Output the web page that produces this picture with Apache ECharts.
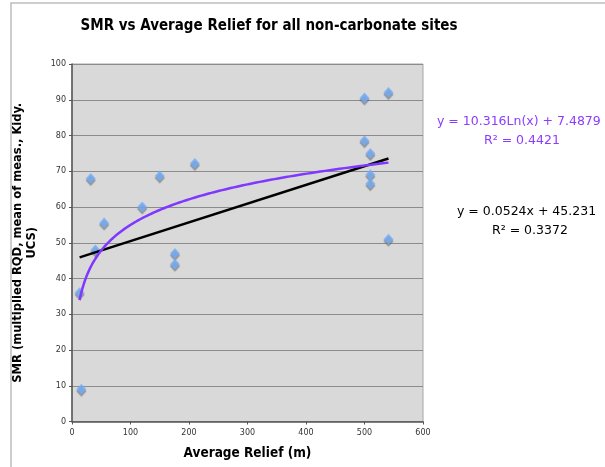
<!DOCTYPE html>
<html>
<head>
<meta charset="utf-8">
<script src="https://cdn.jsdelivr.net/npm/echarts@6/dist/echarts.min.js"></script>
<style>
  html, body { margin: 0; padding: 0; background: #fff; }
  #chart { width: 605px; height: 467px; }
</style>
</head>
<body>
<div id="chart"></div>
<script>
// Sites: average relief (m) and SMR
const relief = [13, 16, 32, 40, 55, 120, 150, 176, 176, 210, 500, 500, 510, 510, 510, 541, 541];
const smr    = [36, 9, 68, 48, 55.5, 60, 68.7, 47, 44, 72.2, 90.5, 78.5, 75, 69, 66.5, 92, 51];

// Fitted trend lines (coefficients as printed on the chart)
const logFit = { a: 10.316, b: 7.4879, r2: '0.4421' };
const linFit = { m: 0.0524, c: 45.231, r2: '0.3372' };
const fitRange = [13, 541];

const xTicks = { min: 0, max: 600, interval: 100 };
const yTicks = { min: 0, max: 100, interval: 10 };

const points = relief.map((x, i) => [x, smr[i]]);

const logLine = [];
for (let k = 0; k <= 200; k++) {
  const x = fitRange[0] * Math.pow(fitRange[1] / fitRange[0], k / 200);
  logLine.push([x, logFit.a * Math.log(x) + logFit.b]);
}
const linLine = fitRange.map(x => [x, linFit.m * x + linFit.c]);

const chart = echarts.init(document.getElementById('chart'));
const font = '"DejaVu Sans", sans-serif';
const boldFont = '"DejaVu Sans Condensed", "DejaVu Sans", sans-serif';

chart.setOption({
  animation: false,
  backgroundColor: '#fff',
  title: {
    text: 'SMR vs Average Relief for all non-carbonate sites',
    left: 264, top: 14, textAlign: 'center',
    textStyle: { fontFamily: boldFont, fontSize: 15, fontWeight: 'bold', color: '#000' }
  },
  grid: {
    left: 72, right: 182, top: 64, bottom: 45.5,
    show: true, backgroundColor: '#d9d9d9', borderColor: '#a6a6a6', borderWidth: 1
  },
  xAxis: {
    type: 'value', min: xTicks.min, max: xTicks.max, interval: xTicks.interval,
    name: 'Average Relief (m)', nameLocation: 'middle', nameGap: 25,
    nameTextStyle: { fontFamily: boldFont, fontSize: 13.5, fontWeight: 'bold', color: '#000' },
    axisLine: { show: true, onZero: false, lineStyle: { color: '#555', width: 1.5 } },
    axisTick: { show: true, length: 3, lineStyle: { color: '#555' } },
    axisLabel: { fontFamily: font, fontSize: 8, color: '#333', margin: 7 },
    splitLine: { show: false }
  },
  yAxis: {
    type: 'value', min: yTicks.min, max: yTicks.max, interval: yTicks.interval,
    name: 'SMR (multiplied RQD, mean of meas., Kidy.\nUCS)', nameLocation: 'middle', nameGap: 33,
    nameTextStyle: { fontFamily: boldFont, fontSize: 12.8, fontWeight: 'bold', color: '#000', lineHeight: 14, align: 'center' },
    axisLine: { show: true, onZero: false, lineStyle: { color: '#555', width: 1.5 } },
    axisTick: { show: true, length: 3, lineStyle: { color: '#555' } },
    axisLabel: { fontFamily: font, fontSize: 8, color: '#333', margin: 6 },
    splitLine: { show: true, lineStyle: { color: '#8c8c8c', width: 1 } }
  },
  graphic: [
    { type: 'rect', shape: { x: 11, y: 3, width: 700, height: 600 },
      style: { fill: 'none', stroke: '#bdbdbd', lineWidth: 1.5 }, silent: true },
    { type: 'text', left: 437, top: 115,
      style: { text: 'y = 10.316Ln(x) + 7.4879', fontFamily: font, fontSize: 12.5, fill: '#8c3cff' } },
    { type: 'text', left: 484, top: 134,
      style: { text: 'R² = ' + logFit.r2, fontFamily: font, fontSize: 12.5, fill: '#8c3cff' } },
    { type: 'text', left: 457, top: 205,
      style: { text: 'y = 0.0524x + 45.231', fontFamily: font, fontSize: 12.5, fill: '#000' } },
    { type: 'text', left: 492, top: 224,
      style: { text: 'R² = ' + linFit.r2, fontFamily: font, fontSize: 12.5, fill: '#000' } }
  ],
  series: [
    {
      type: 'scatter', data: points, symbol: 'diamond', symbolSize: [10, 11], z: 3,
      itemStyle: { color: '#73adf7', shadowColor: 'rgba(90,90,90,0.7)', shadowOffsetY: 2, shadowBlur: 1 }
    },
    {
      type: 'line', data: linLine, showSymbol: false, z: 4,
      lineStyle: { color: '#000', width: 2.5 }
    },
    {
      type: 'line', data: logLine, showSymbol: false, smooth: false, z: 5,
      lineStyle: { color: '#8038ff', width: 2.5 }
    }
  ]
});
</script>
</body>
</html>
